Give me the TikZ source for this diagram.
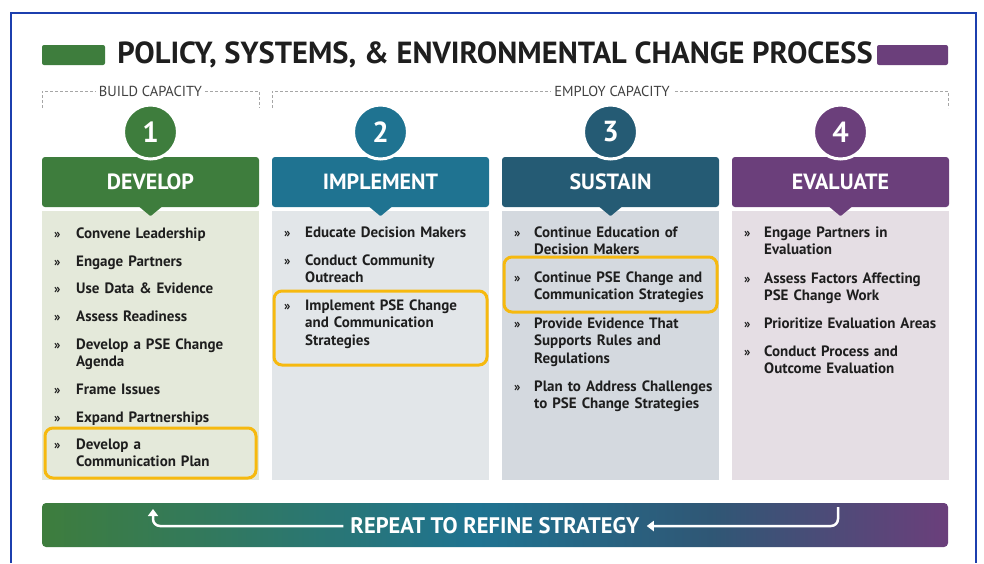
\documentclass[tikz,border=0pt]{standalone}
\usepackage{fontspec}
\setmainfont{PT Sans}
\usetikzlibrary{arrows.meta,positioning}

\definecolor{frameblue}{HTML}{1C3FAE}
\definecolor{devgreen}{HTML}{3E7D3D}
\definecolor{impteal}{HTML}{1F7391}
\definecolor{susblue}{HTML}{255B74}
\definecolor{evapurple}{HTML}{6B3F7B}
\definecolor{devbg}{HTML}{E4E9DA}
\definecolor{impbg}{HTML}{E2E6E9}
\definecolor{susbg}{HTML}{D4D9DF}
\definecolor{evabg}{HTML}{E5DEE4}
\definecolor{hlgold}{HTML}{F6B90F}
\definecolor{ink}{HTML}{1E1E1E}

% the path is fitted into the 25bp--75bp part of the shading
\pgfdeclarehorizontalshading{repeatbar}{100bp}{color(0bp)=(devgreen); color(25bp)=(devgreen);
  color(49bp)=(impteal); color(62bp)=(susblue!85!evapurple); color(75bp)=(evapurple);
  color(100bp)=(evapurple)}

\begin{document}
\begin{tikzpicture}[x=1pt,y=-1pt,
  head/.style={rounded corners=3pt, minimum width=217pt, minimum height=50pt,
    text=white, font=\fontsize{22}{24}\selectfont\bfseries},
  panel/.style={minimum width=217pt, minimum height=269pt, anchor=north, inner sep=0pt},
  num/.style={circle, draw=white, line width=3pt, minimum size=54pt, inner sep=0pt,
    text=white, font=\fontsize{29}{30}\selectfont\bfseries},
  chev/.style={anchor=base west, inner sep=0pt, text=ink, font=\fontsize{13}{17.5}\selectfont\bfseries},
  item/.style={anchor=base west, inner sep=0pt, text width=190pt, align=left, text=ink,
    font=\fontsize{15}{17.5}\selectfont\bfseries},
  bracket/.style={gray!70, densely dashed, thin},
  caplabel/.style={fill=white, inner xsep=3pt, text=ink!85, font=\fontsize{14.5}{16}\selectfont},
  hl/.style={draw=hlgold, line width=3pt, rounded corners=8pt},
  loop/.style={white, line width=2.5pt, rounded corners=7pt}]
\useasboundingbox[fill=white] (0,0) rectangle (984,563);
\draw[frameblue, line width=2pt] (11,563) -- (11,13) -- (976,13) -- (976,563);

% title with the two colour bars
\node[text=ink, font=\fontsize{30.5}{32}\selectfont\bfseries] (title) at (495,55)
  {POLICY, SYSTEMS, \& ENVIRONMENTAL CHANGE PROCESS};
\fill[devgreen, rounded corners=2pt] (42,45) rectangle (105,65);
\fill[evapurple, rounded corners=2pt] (877,45) rectangle (948,65);

% build / employ capacity brackets
\draw[bracket] (42,108) -- (42,91) -- (259,91) -- (259,108);
\draw[bracket] (272,108) -- (272,91) -- (948,91) -- (948,108);
\node[caplabel] (build) at (150.5,91) {BUILD CAPACITY};
\node[caplabel] (employ) at (612,91) {EMPLOY CAPACITY};

% the four steps
\foreach \x/\n/\name/\col/\bg in {150.5/1/DEVELOP/devgreen/devbg,
    380.5/2/IMPLEMENT/impteal/impbg,
    610.5/3/SUSTAIN/susblue/susbg,
    840.5/4/EVALUATE/evapurple/evabg} {
  \node[panel, fill=\bg] (p\n) at (\x,211) {};
  \node[head, fill=\col] (h\n) at (\x,182) {\name};
  \fill[\col, rounded corners=1pt] (h\n.south) ++(-12,-1) -- ++(12,10) -- ++(12,-10) -- cycle;
  \node[num, fill=\col] (c\n) at (\x,132) {\n};
}

% step lists
\foreach \y/\t [count=\k] in {238/Convene Leadership, 266/Engage Partners,
    293/Use Data \& Evidence, 321/Assess Readiness, 349/Develop a PSE Change\\Agenda,
    394/Frame Issues, 422/Expand Partnerships, 449/Develop a\\Communication Plan} {
  \node[chev] (b1-\k) at (54,\y) {»};
  \node[item] (t1-\k) at (76,\y) {\t};
}
\foreach \y/\t [count=\k] in {237/Educate Decision Makers, 265/Conduct Community\\Outreach,
    310/Implement PSE Change\\and Communication\\Strategies} {
  \node[chev] (b2-\k) at (284,\y) {»};
  \node[item] (t2-\k) at (305,\y) {\t};
}
\foreach \y/\t [count=\k] in {237/Continue Education of\\Decision Makers,
    282/Continue PSE Change and\\Communication Strategies,
    328/Provide Evidence That\\Supports Rules and\\Regulations,
    391/Plan to Address Challenges\\to PSE Change Strategies} {
  \node[chev] (b3-\k) at (514,\y) {»};
  \node[item] (t3-\k) at (534,\y) {\t};
}
\foreach \y/\t [count=\k] in {237/Engage Partners in\\Evaluation,
    283/Assess Factors Affecting\\PSE Change Work,
    328/Prioritize Evaluation Areas,
    356/Conduct Process and\\Outcome Evaluation} {
  \node[chev] (b4-\k) at (744,\y) {»};
  \node[item] (t4-\k) at (764,\y) {\t};
}

% highlighted items
\draw[hl] (45,428) rectangle (256,478);
\draw[hl] (274,291) rectangle (487,365);
\draw[hl] (504,257) rectangle (717,312);

% repeat bar
\shade[shading=repeatbar, rounded corners=4pt] (42,503) rectangle (948,547);
\node[text=white, inner xsep=7pt, font=\fontsize{22.5}{24}\selectfont\bfseries] (rep) at (495,526)
  {REPEAT TO REFINE STRATEGY};
\coordinate (rstart) at (838,507);
\coordinate (lend) at (153,509);
\draw[loop, -{Triangle[width=10pt,length=7pt]}] (rstart) |- (rep.east);
\draw[loop, -{Triangle[width=10pt,length=7pt]}] (rep.west) -| (lend);
\end{tikzpicture}
\end{document}
